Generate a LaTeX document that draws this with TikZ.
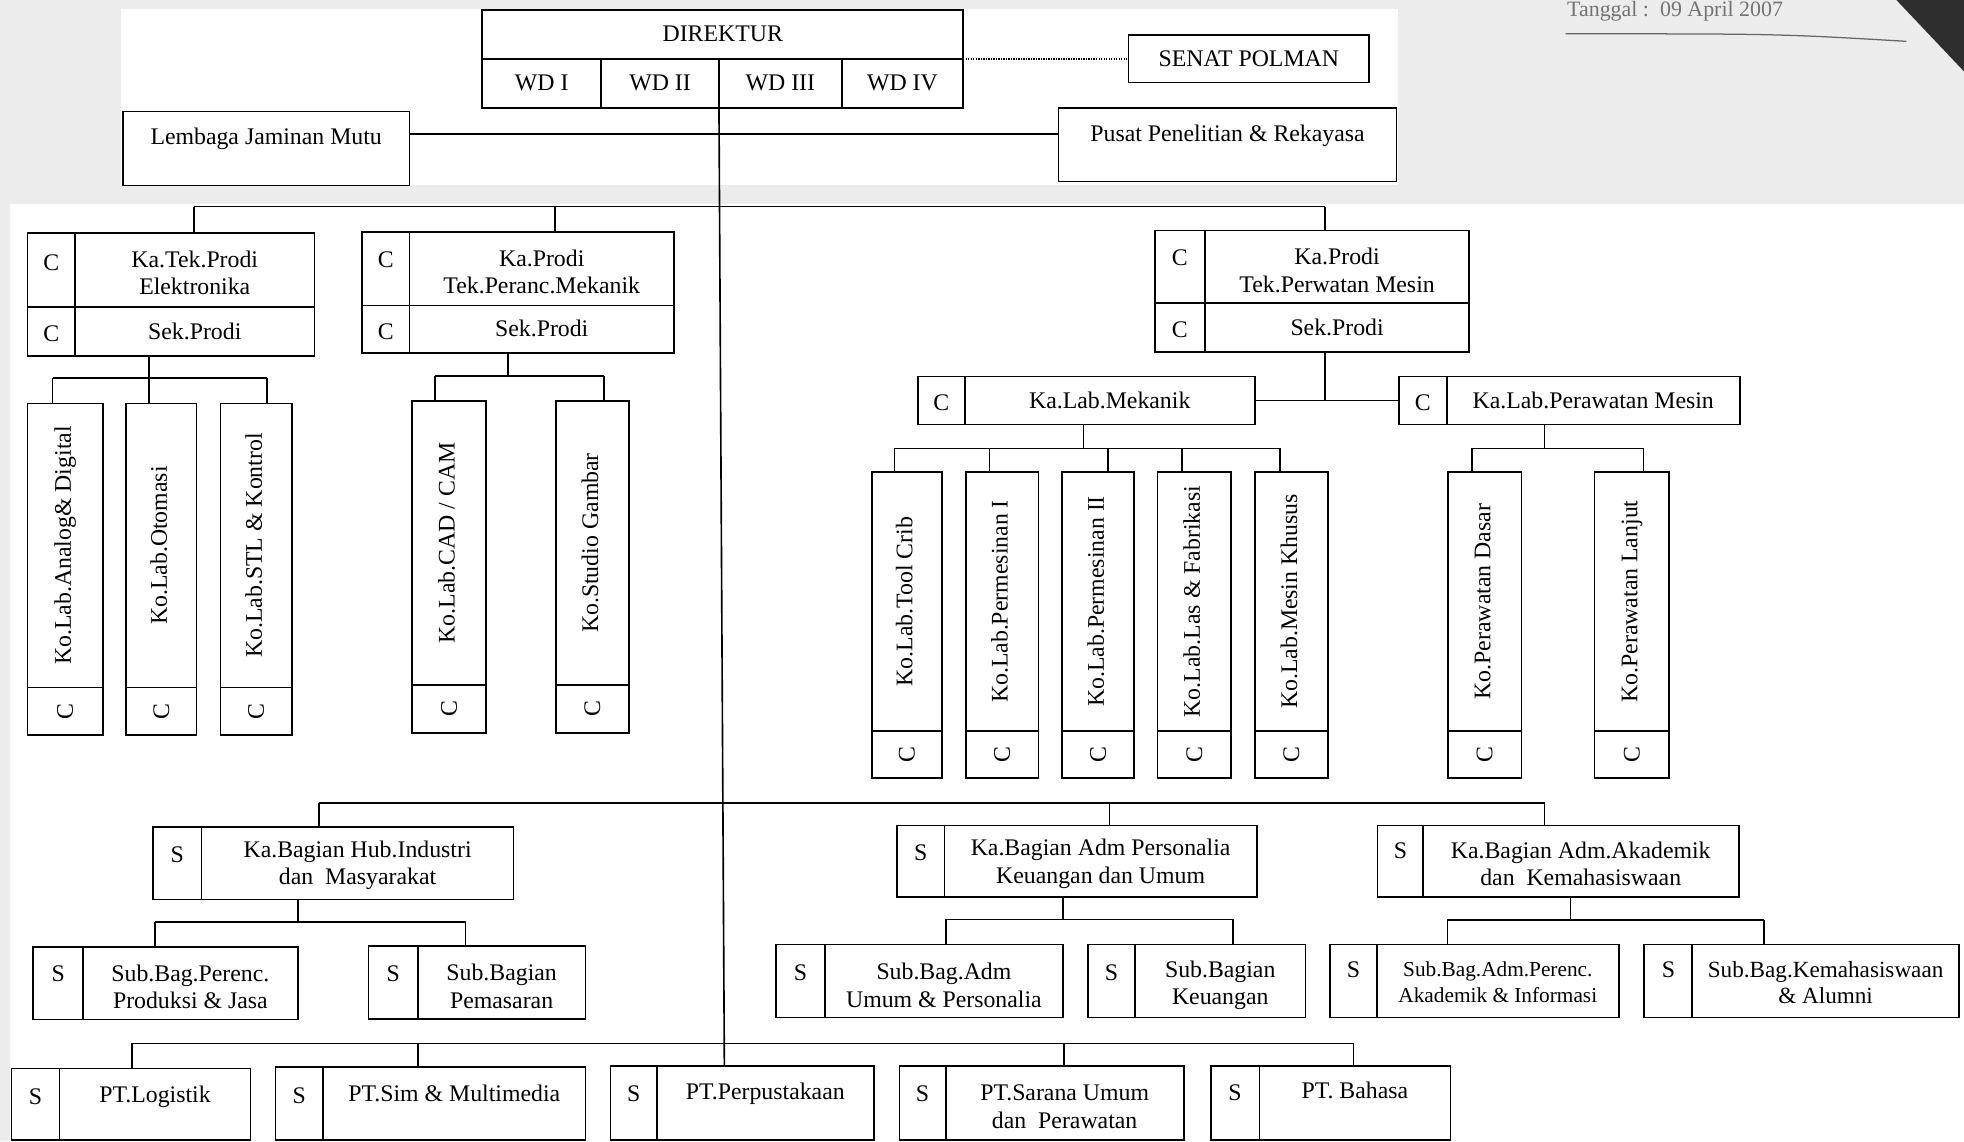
\documentclass[tikz,border=0pt]{standalone}
\usepackage{fontspec}
\setmainfont{Liberation Serif}
\definecolor{scan}{HTML}{ECECEC}
\newcommand\rb[6]{\node[bx, minimum width={#4-#2}, minimum height={#5-#3}] (#1) at ({(#2+#4)/2},{(#3+#5)/2}) {#6};}
\newcommand\vd[3]{\draw[ln] (#1,#2) -- (#1,#3);}
\newcommand\hd[3]{\draw[ln] (#2,#1) -- (#3,#1);}
\newcommand\lab[7]{\rb{#1}{#2}{#3}{#4}{#6}{}\hd{#5}{#2}{#4}%
  \node[rt,one] (#1t) at ({(#2+#4)/2},{(#3+#5)/2}) {#7};%
  \node[rt] (#1c) at ({(#2+#4)/2},{(#5+#6)/2}) {C};}
\begin{document}
\begin{tikzpicture}[x=1pt,y=-1pt,
  bx/.style={draw, line width=1.3pt, inner sep=0pt, outer sep=0pt, font=\fontsize{19}{22}\selectfont, align=center},
  ln/.style={line width=1.3pt},
  dotln/.style={line width=1pt, dash pattern=on 1pt off 1pt},
  tx/.style={font=\fontsize{19}{22}\selectfont, align=center, inner sep=0pt, yshift=-1.5pt},
  sm/.style={font=\fontsize{17}{21}\selectfont, align=center, inner sep=0pt, yshift=-1.5pt},
  one/.style={text height=13pt, text depth=4pt},
  rt/.style={font=\fontsize{19}{22}\selectfont, rotate=90, inner sep=0pt}]
\useasboundingbox (0,0) rectangle (1568,911);
\fill[white] (0,0) rectangle (1568,911);
\fill[scan] (0,0) rectangle (1568,163);
\fill[scan] (0,0) rectangle (8,911);
\fill[white] (97,7) rectangle (1116,148);
% header remnants
\node[anchor=base west, font=\fontsize{17.5}{20}\selectfont, text=black!55, inner sep=0pt] (tgl) at (1251,13) {Tanggal :\ \ 09 April 2007};
\draw[black!60, line width=1pt] (1250,27) .. controls (1420,27) .. (1522,33);
\fill[black!82] (1514,0) -- (1568,0) -- (1568,57) -- cycle;
% top
\rb{dir}{385}{8}{769}{47}{}
\node[tx,one] (dirT) at (dir) {DIREKTUR};
\rb{wda}{385}{47}{480}{86}{}
\node[tx,one] (wdaT) at (wda) {WD I};
\rb{wdb}{480}{47}{574}{86}{}
\node[tx,one] (wdbT) at (wdb) {WD II};
\rb{wdc}{574}{47}{672}{86}{}
\node[tx,one] (wdcT) at (wdc) {WD III};
\rb{wdd}{672}{47}{769}{86}{}
\node[tx,one] (wddT) at (wdd) {WD IV};
\rb{senat}{901}{28}{1093}{66}{}
\node[tx,one] (senatT) at (senat) {SENAT POLMAN};
\draw[dotln] (dir.south east) -- (senat.west);
\rb{ljm}{98}{89}{327}{148}{}
\node[tx,one] (ljmT) at (212.5,109) {Lembaga Jaminan Mutu};
\rb{pusat}{845}{86}{1115}{145}{}
\node[tx,one] (pusatT) at (980,107) {Pusat Penelitian \& Rekayasa};
\coordinate (hz0) at (576,107);
\draw[ln] (ljm.east |- hz0) -- (pusat.west |- hz0);
% prodi
\rb{prA}{22}{186}{251}{284}{}\vd{60}{186}{284}\hd{245}{22}{251}
\node[tx] (prAc1) at (41,208) {C};
\node[tx] (prAt1) at (155.5,216.5) {Ka.Tek.Prodi\\Elektronika};
\node[tx] (prAc2) at (41,265) {C};
\node[tx,one] (prAt2) at (155.5,265) {Sek.Prodi};
\rb{prB}{289}{185}{538}{282}{}\vd{327}{185}{282}\hd{244}{289}{538}
\node[tx] (prBc1) at (308,206) {C};
\node[tx] (prBt1) at (432.5,215.5) {Ka.Prodi\\Tek.Peranc.Mekanik};
\node[tx] (prBc2) at (308,263) {C};
\node[tx,one] (prBt2) at (432.5,263) {Sek.Prodi};
\rb{prC}{922}{184}{1173}{281}{}\vd{962}{184}{281}\hd{242}{922}{1173}
\node[tx] (prCc1) at (942,204) {C};
\node[tx] (prCt1) at (1067.5,214.5) {Ka.Prodi\\Tek.Perwatan Mesin};
\node[tx] (prCc2) at (942,262) {C};
\node[tx,one] (prCt2) at (1067.5,262) {Sek.Prodi};
\coordinate (pb1) at (155,165);
\coordinate (pb2) at (443,165);
\coordinate (pb3) at (1058,165);
\draw[ln] (pb1) -- (pb3);
\draw[ln] (pb1) -- (pb1 |- prA.north);
\draw[ln] (pb2) -- (pb2 |- prB.north);
\draw[ln] (pb3) -- (pb3 |- prC.north);
% labs A
\lab{labA1}{22}{322}{82}{549}{587}{Ko.Lab.Analog\& Digital}
\lab{labA2}{100.5}{322}{157}{549}{587}{Ko.Lab.Otomasi}
\lab{labA3}{176}{322}{233}{549}{587}{Ko.Lab.STL \& Kontrol}
\coordinate (ga) at (119,302);
\coordinate (ga1) at (42,302);
\coordinate (ga3) at (213,302);
\draw[ln] (ga |- prA.south) -- (ga);
\draw[ln] (ga1) -- (ga3);
\draw[ln] (ga1) -- (ga1 |- labA1.north);
\draw[ln] (ga) -- (ga |- labA2.north);
\draw[ln] (ga3) -- (ga3 |- labA3.north);
% labs B
\lab{labB1}{329}{320}{388}{547}{585}{Ko.Lab.CAD / CAM}
\lab{labB2}{444}{320}{502}{547}{585}{Ko.Studio Gambar}
\coordinate (gb) at (405.6,300);
\coordinate (gb1) at (347.5,300);
\coordinate (gb2) at (482,300);
\draw[ln] (gb |- prB.south) -- (gb);
\draw[ln] (gb1) -- (gb2);
\draw[ln] (gb1) -- (gb1 |- labB1.north);
\draw[ln] (gb2) -- (gb2 |- labB2.north);
% ka lab
\rb{klm}{733}{300.5}{1002}{339}{}\vd{770.5}{300.5}{339}
\node[tx] (klmc) at (751.5,320) {C};
\node[tx,one] (klmt) at (886,320) {Ka.Lab.Mekanik};
\rb{klp}{1117}{300.5}{1389}{339}{}\vd{1155}{300.5}{339}
\node[tx] (klpc) at (1136,320) {C};
\node[tx,one] (klpt) at (1272,320) {Ka.Lab.Perawatan Mesin};
\draw[ln] (klm.east) -- (klp.west);
\draw[ln] (pb3 |- prC.south) -- (pb3 |- klm.east);
% labs mekanik
\lab{m1}{696}{377}{752}{583.5}{621}{Ko.Lab.Tool Crib}
\lab{m2}{771}{377}{829}{583.5}{621}{Ko.Lab.Permesinan I}
\lab{m3}{848}{377}{905.5}{583.5}{621}{Ko.Lab.Permesinan II}
\lab{m4}{924}{377}{983}{583.5}{621}{Ko.Lab.Las \& Fabrikasi}
\lab{m5}{1002}{377}{1060}{583.5}{621}{Ko.Lab.Mesin Khusus}
\coordinate (gm) at (865,358);
\coordinate (gm1) at (714,358);
\coordinate (gm2) at (790,358);
\coordinate (gm3) at (884.5,358);
\coordinate (gm4) at (943.5,358);
\coordinate (gm5) at (1022,358);
\draw[ln] (gm |- klm.south) -- (gm);
\draw[ln] (gm1) -- (gm5);
\draw[ln] (gm1) -- (gm1 |- m1.north);
\draw[ln] (gm2) -- (gm2 |- m2.north);
\draw[ln] (gm3) -- (gm3 |- m3.north);
\draw[ln] (gm4) -- (gm4 |- m4.north);
\draw[ln] (gm5) -- (gm5 |- m5.north);
% labs perawatan
\lab{p1}{1156}{377}{1214.6}{583.5}{621}{Ko.Perawatan Dasar}
\lab{p2}{1273}{377}{1332.6}{583.5}{621}{Ko.Perawatan Lanjut}
\coordinate (gp) at (1233,358);
\coordinate (gp1) at (1175,358);
\coordinate (gp2) at (1312,358);
\draw[ln] (gp |- klp.south) -- (gp);
\draw[ln] (gp1) -- (gp2);
\draw[ln] (gp1) -- (gp1 |- p1.north);
\draw[ln] (gp2) -- (gp2 |- p2.north);
% admin
\rb{hub}{122}{660}{410}{718}{}\vd{161}{660}{718}
\node[tx] (hubS) at (141.5,681) {S};
\node[tx] (hubT) at (285.5,689.5) {Ka.Bagian Hub.Industri\\dan\ \ Masyarakat};
\rb{per}{716}{659}{1003.5}{716}{}\vd{754}{659}{716}
\node[tx] (perS) at (735,679) {S};
\node[tx] (perT) at (878.7,688) {Ka.Bagian Adm Personalia\\Keuangan dan Umum};
\rb{aka}{1099.6}{659}{1388.3}{716}{}\vd{1136}{659}{716}
\node[tx] (akaS) at (1118,678) {S};
\node[tx] (akaT) at (1262,688) {Ka.Bagian Adm.Akademik\\dan\ \ Kemahasiswaan};
\coordinate (ab1) at (254.6,641);
\coordinate (ab2) at (885.7,641);
\coordinate (ab3) at (1233.2,641);
\draw[ln] (ab1) -- (ab3);
\draw[ln] (ab1) -- (ab1 |- hub.north);
\draw[ln] (ab2) -- (ab2 |- per.north);
\draw[ln] (ab3) -- (ab3 |- aka.north);
% hub sub
\rb{sb1}{26.5}{756}{237.8}{814}{}\vd{66.2}{756}{814}
\node[tx] (sb1S) at (46.4,776) {S};
\node[tx] (sb1T) at (152,786.5) {Sub.Bag.Perenc.\\Produksi \& Jasa};
\rb{sb2}{294.3}{755}{467.4}{813.5}{}\vd{333.5}{755}{813.5}
\node[tx] (sb2S) at (314,776) {S};
\node[tx] (sb2T) at (400.5,786) {Sub.Bagian\\Pemasaran};
\coordinate (hs) at (237.8,736);
\coordinate (hs1) at (123.7,736);
\coordinate (hs2) at (371.7,736);
\draw[ln] (hs |- hub.south) -- (hs);
\draw[ln] (hs1) -- (hs2);
\draw[ln] (hs1) -- (hs1 |- sb1.north);
\draw[ln] (hs2) -- (hs2 |- sb2.north);
% personalia sub
\rb{sp1}{619.6}{754}{848.9}{812.4}{}\vd{658.4}{754}{812.4}
\node[tx] (sp1S) at (639,775) {S};
\node[tx] (sp1T) at (753.6,785) {Sub.Bag.Adm\\Umum \& Personalia};
\rb{sp2}{868.5}{754}{1042.2}{812.4}{}\vd{906.3}{754}{812.4}
\node[tx] (sp2S) at (887.4,775) {S};
\node[tx] (sp2T) at (974.2,785) {Sub.Bagian\\Keuangan};
\coordinate (ps) at (848.9,734);
\coordinate (ps1) at (755,734);
\coordinate (ps2) at (984.3,734);
\draw[ln] (ps |- per.south) -- (ps);
\draw[ln] (ps1) -- (ps2);
\draw[ln] (ps1) -- (ps1 |- sp1.north);
\draw[ln] (ps2) -- (ps2 |- sp2.north);
% akademik sub
\rb{sa1}{1061.9}{754}{1292.5}{812.4}{}\vd{1099.2}{754}{812.4}
\node[tx] (sa1S) at (1080.5,773) {S};
\node[sm] (sa1T) at (1195.8,782.5) {Sub.Bag.Adm.Perenc.\\Akademik \& Informasi};
\rb{sa2}{1312.7}{754}{1564}{812.4}{}\vd{1351}{754}{812.4}
\node[tx] (sa2S) at (1332,773) {S};
\node[tx, font=\fontsize{18.5}{21}\selectfont] (sa2T) at (1457.5,783) {Sub.Bag.Kemahasiswaan\\\& Alumni};
\coordinate (as) at (1253.8,734.5);
\coordinate (as1) at (1155.6,734.5);
\coordinate (as2) at (1408.4,734.5);
\draw[ln] (as |- aka.south) -- (as);
\draw[ln] (as1) -- (as2);
\draw[ln] (as1) -- (as1 |- sa1.north);
\draw[ln] (as2) -- (as2 |- sa2.north);
% PT row
\rb{ptl}{9.2}{853}{200.1}{910}{}\vd{47.4}{853}{910}
\node[tx] (ptlS) at (28.3,874) {S};
\node[tx,one] (ptlT) at (123.8,874) {PT.Logistik};
\rb{pts}{220}{852}{467.4}{910}{}\vd{258.1}{852}{910}
\node[tx] (ptsS) at (239,873) {S};
\node[tx,one] (ptsT) at (362.7,873) {PT.Sim \& Multimedia};
\rb{perp}{487.3}{851}{697.6}{910}{}\vd{524.4}{851}{910}
\node[tx] (perpS) at (506,872) {S};
\node[tx,one] (perpT) at (611,872) {PT.Perpustakaan};
\rb{ptsu}{718}{851}{945.5}{910}{}\vd{755}{851}{910}
\node[tx] (ptsuS) at (736.5,872) {S};
\node[tx] (ptsuT) at (850,882) {PT.Sarana Umum\\dan\ \ Perawatan};
\rb{ptb}{966.6}{851}{1158.1}{910}{}\vd{1005.4}{851}{910}
\node[tx] (ptbS) at (986,871) {S};
\node[tx,one] (ptbT) at (1081.7,871) {PT. Bahasa};
\coordinate (pt1) at (105.4,833);
\coordinate (pt2) at (333.5,833);
\coordinate (pt4) at (849.3,833);
\coordinate (pt5) at (1080.5,833);
\draw[ln] (pt1) -- (pt5);
\draw[ln] (pt1) -- (pt1 |- ptl.north);
\draw[ln] (pt2) -- (pt2 |- pts.north);
\draw[ln] (pt4) -- (pt4 |- ptsu.north);
\draw[ln] (pt5) -- (pt5 |- ptb.north);
% main spine
\draw[ln] (wdb.south east) -- ([xshift=91pt]perp.north west);
\end{tikzpicture}
\end{document}
